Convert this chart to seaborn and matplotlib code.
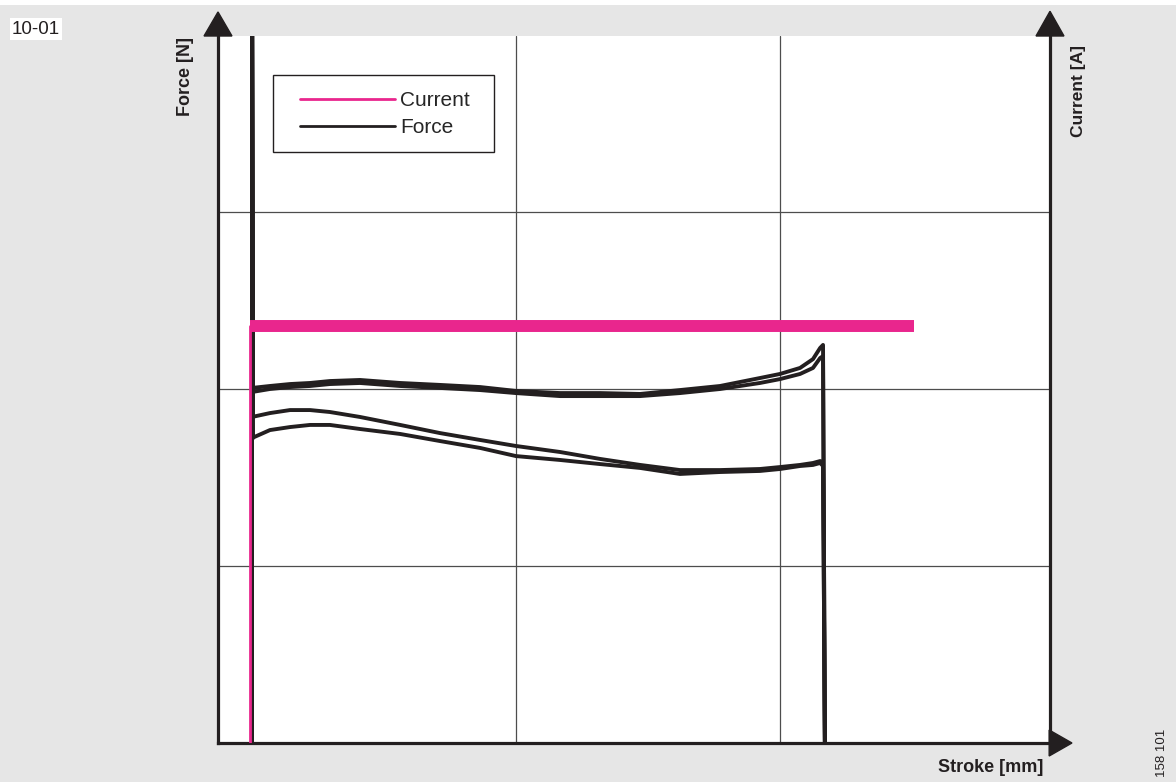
import matplotlib
matplotlib.use("Agg")
import matplotlib.pyplot as plt
from matplotlib.lines import Line2D
from matplotlib.patches import Polygon, Rectangle
import seaborn as sns

# Stroke positions (grid units) shared by all force runs
stroke = [0.000, 0.068, 0.144, 0.220, 0.295, 0.409, 0.561, 0.712, 0.864, 1.000,
          1.167, 1.318, 1.470, 1.621, 1.773, 1.924, 2.000, 2.076, 2.125, 2.152, 2.163]

# Force runs (grid units)
force_run1 = [2.006, 2.017, 2.028, 2.034, 2.045, 2.051, 2.034, 2.023, 2.011, 1.989,
              1.977, 1.977, 1.972, 1.994, 2.017, 2.062, 2.085, 2.119, 2.169, 2.232, 2.249]
force_run2 = [1.983, 2.000, 2.011, 2.017, 2.028, 2.034, 2.017, 2.006, 1.994, 1.977,
              1.960, 1.960, 1.960, 1.977, 2.000, 2.034, 2.056, 2.085, 2.119, 2.175, 2.186]
force_run3 = [1.842, 1.864, 1.881, 1.881, 1.870, 1.842, 1.797, 1.751, 1.712, 1.678,
              1.644, 1.605, 1.571, 1.542, 1.542, 1.548, 1.559, 1.571, 1.582, 1.593, 1.588]
force_run4 = [1.723, 1.768, 1.785, 1.797, 1.797, 1.774, 1.746, 1.706, 1.667, 1.621,
              1.599, 1.576, 1.554, 1.520, 1.531, 1.537, 1.548, 1.565, 1.571, 1.582, 1.565]
force_runs = [force_run1, force_run2, force_run3, force_run4]
inrush_peak = 4.5      # start spike goes off the top of the chart
stroke_end = 2.170     # where force drops back to zero

# Current: lead-in and plateau
current_x = [-0.008, -0.008]
current_lead = [0.0, 2.356]
plateau_x = [-0.008, 2.508]
plateau_y = [2.356, 2.356]

PINK = "#e9268d"
INK = "#231f20"

sns.set_theme(style="white")
plt.rcParams["font.family"] = ["Liberation Sans", "DejaVu Sans"]

fig = plt.figure(figsize=(11.76, 7.82), dpi=100)
fig.patch.set_facecolor("#e6e6e6")
fig.patches.append(Rectangle((0, 1 - 5 / 782), 1, 5 / 782, transform=fig.transFigure,
                             facecolor="white", edgecolor="none"))

ax = fig.add_axes([218 / 1176, 1 - 743 / 782, 832 / 1176, 707 / 782])
ax.set_facecolor("white")
ax.set_xlim(-34 / 264, 798 / 264)
ax.set_ylim(0, 707 / 177)
ax.set_xticks([0, 1, 2])
ax.set_yticks([1, 2, 3])
ax.grid(True, color="#4d4d4d", lw=0.9)
ax.tick_params(length=0, labelleft=False, labelbottom=False)
ax.set_axisbelow(True)

for side in ["left", "bottom", "right"]:
    ax.spines[side].set_visible(True)
    ax.spines[side].set_color(INK)
    ax.spines[side].set_linewidth(2.3)
ax.spines["top"].set_visible(False)

# force traces with start spike and end drop
for run in force_runs:
    xs = [0.0, 0.0, 0.004] + stroke + [stroke_end]
    ys = [0.0, inrush_peak, run[0]] + run + [0.0]
    sns.lineplot(x=xs, y=ys, sort=False, estimator=None, ax=ax, color=INK, lw=2.8, zorder=3)

# current
sns.lineplot(x=current_x, y=current_lead, sort=False, estimator=None, ax=ax,
             color=PINK, lw=2.0, zorder=4)
sns.lineplot(x=plateau_x, y=plateau_y, sort=False, estimator=None, ax=ax,
             color=PINK, lw=8.6, zorder=4, solid_capstyle="butt")

# legend box drawn by hand, entries via legend
ax.add_patch(Rectangle((55 / 832, (743 - 152) / 707), 221 / 832, 77 / 707,
                       transform=ax.transAxes, facecolor="white", edgecolor=INK,
                       lw=1.0, zorder=6))
handles = [Line2D([], [], color=PINK, lw=2.0), Line2D([], [], color=INK, lw=2.0)]
leg = ax.legend(handles, ["Current", "Force"], loc="center left",
                bbox_to_anchor=(82 / 832, (743 - 114) / 707), frameon=False,
                fontsize=15, handlelength=4.55, handletextpad=0.24,
                labelspacing=0.38, borderpad=0, borderaxespad=0)
leg.set_zorder(7)

# arrow heads
arrows = [
    [(0.0, 1.034), (-0.0168, 1.0), (0.0168, 1.0)],
    [(1.0, 1.035), (0.9832, 1.0), (1.0168, 1.0)],
    [(1.0264, 0.0), (0.9990, 0.0184), (0.9990, -0.0184)],
]
for tri in arrows:
    ax.add_patch(Polygon(tri, closed=True, transform=ax.transAxes, clip_on=False,
                         facecolor=INK, edgecolor=INK, zorder=8))

# texts
fig.text(186 / 1176, 1 - 37 / 782, "Force [N]", rotation=90, ha="center", va="top",
         fontsize=13, fontweight="bold", color=INK)
fig.text(1078 / 1176, 1 - 45 / 782, "Current [A]", rotation=90, ha="center", va="top",
         fontsize=12.5, fontweight="bold", color=INK)
fig.text(1043 / 1176, 1 - 768 / 782, "Stroke [mm]", ha="right", va="center",
         fontsize=13, fontweight="bold", color=INK)
fig.text(1162 / 1176, 1 - 753 / 782, "158 101", rotation=90, ha="center", va="center",
         fontsize=9.5, color=INK)
fig.text(12 / 1176, 1 - 29 / 782, "10-01", ha="left", va="center", fontsize=13.5,
         color=INK, bbox=dict(facecolor="white", edgecolor="none", pad=1.5))

fig.savefig("out.png", dpi=100, facecolor=fig.get_facecolor())
